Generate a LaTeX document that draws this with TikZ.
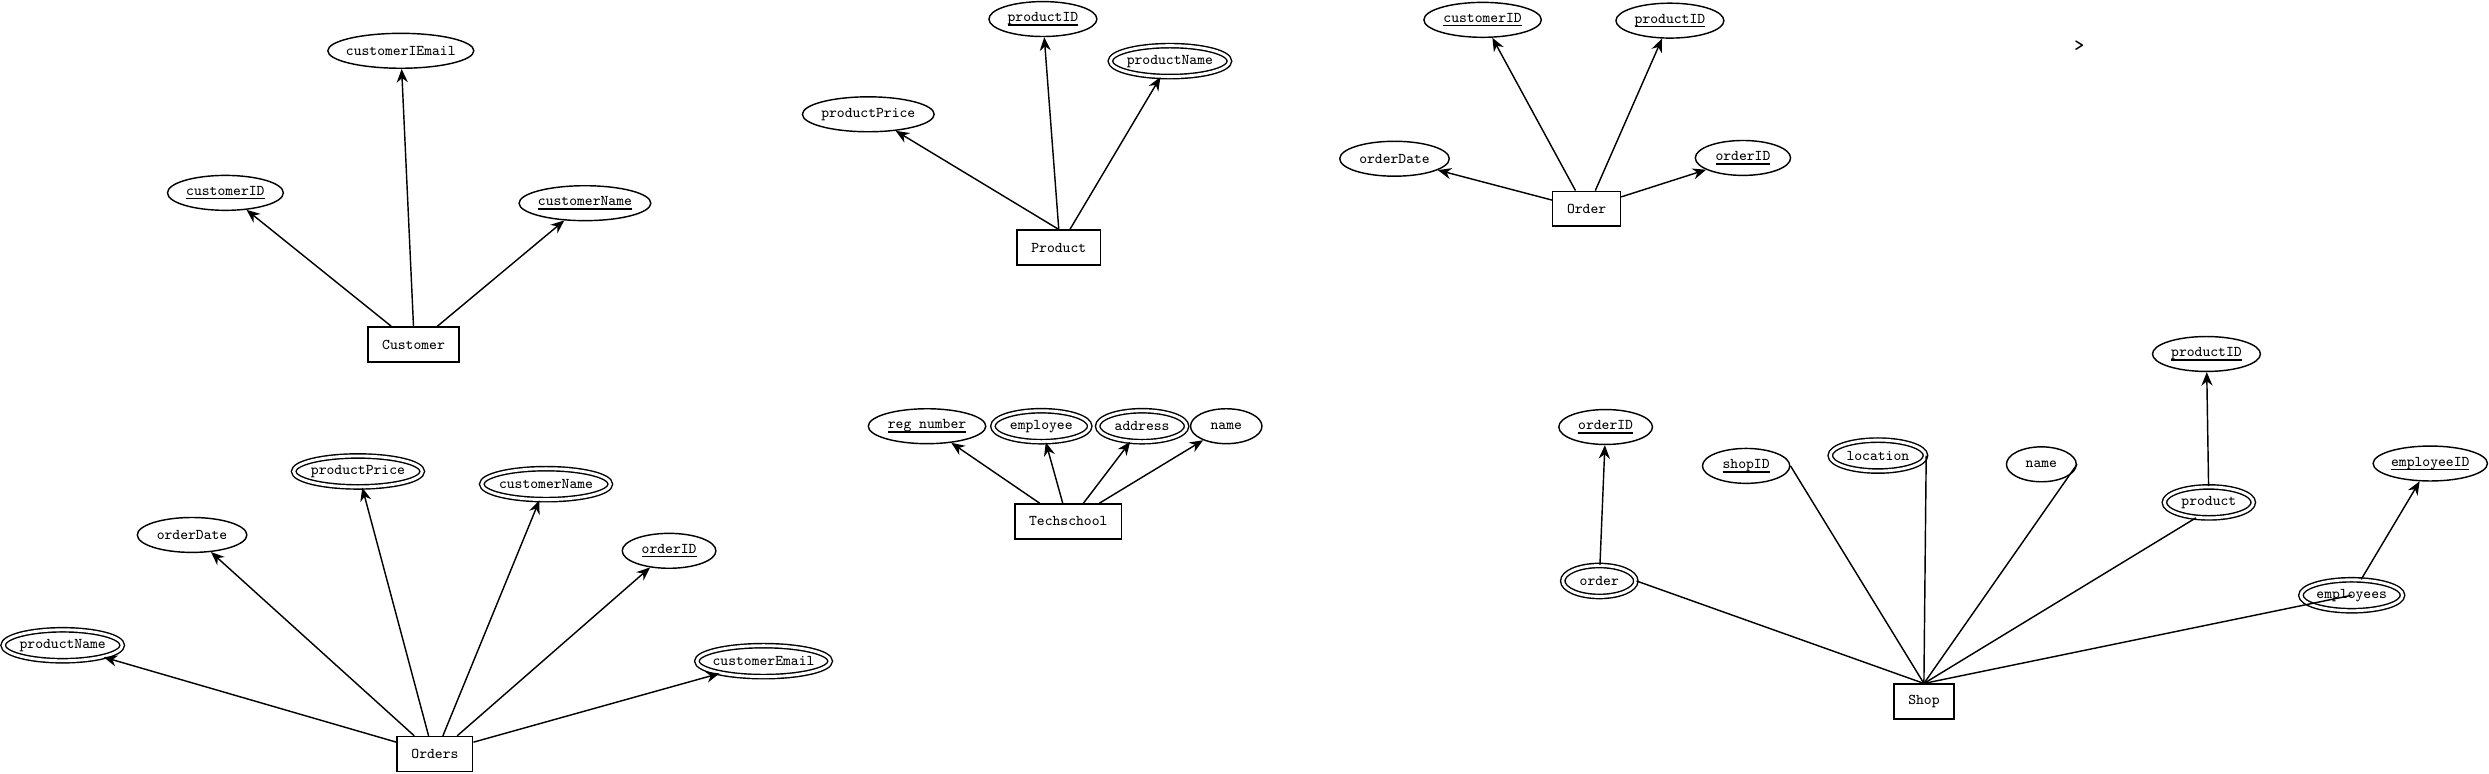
\documentclass[tikz,border=0pt]{standalone}
\usepackage{fontspec}
\usetikzlibrary{shapes.geometric,arrows.meta}
\newcommand{\keyattr}[1]{\setbox0\hbox{#1}\rlap{\vrule width\wd0 height -1.6pt depth 2.6pt}\box0}

\begin{document}
\begin{tikzpicture}[x=1pt,y=-1pt,inner sep=0pt,line width=0.9pt,
>={Stealth[length=8.5pt,width=7pt]},
every node/.style={font=\ttfamily\fontsize{9.4}{11}\selectfont},
entity/.style={draw,rectangle,inner xsep=9pt,minimum height=22pt},
attr/.style={draw,ellipse,minimum width=#1,minimum height=22pt,
  execute at begin node=\hbox to 0pt\bgroup\hss,execute at end node=\hss\egroup},
mattr/.style={attr=#1,minimum height=19.5pt,double,double distance=1.8pt}]

\useasboundingbox (0,0) rectangle (1568,487);

% Customer
\draw (260.5,217) node[entity] (cust) {Customer};
\draw (252.5,32) node[attr=92pt] (custEmail) {customerIEmail};
\draw (142,121.5) node[attr=73pt] (custID) {\keyattr{customerID}};
\draw (368.5,128) node[attr=83pt] (custName) {\keyattr{customerName}};

\draw[->] ([xshift=-14pt]cust.north) -- (custID);
\draw[->] (cust.north) -- (custEmail);
\draw[->] ([xshift=15pt]cust.north) -- (custName);

% Product
\draw (667,156) node[entity] (prod) {Product};
\draw (657,12) node[attr=68pt] (prodID) {\keyattr{productID}};
\draw (737,38.5) node[mattr=75pt] (prodName) {productName};
\draw (547,72) node[attr=83pt] (prodPrice) {productPrice};

\draw[->] (prod.north) -- (prodPrice);
\draw[->] (prod.north) -- (prodID);
\draw[->] ([xshift=7pt]prod.north) -- (prodName);

% Order
\draw (999.5,131.5) node[entity] (ord) {Order};
\draw (934,12.5) node[attr=74pt] (ordCustID) {\keyattr{customerID}};
\draw (1052,13) node[attr=68pt] (ordProdID) {\keyattr{productID}};
\draw (878.5,100) node[attr=69pt] (ordDate) {orderDate};
\draw (1098,99.5) node[attr=60pt] (ordID) {\keyattr{orderID}};

\draw[->] ([yshift=-6pt]ord.north west) -- (ordDate);
\draw[->] ([xshift=-7pt]ord.north) -- (ordCustID);
\draw[->] ([xshift=5.5pt]ord.north) -- (ordProdID);
\draw[->] ([yshift=-4pt]ord.north east) -- (ordID);

\draw (1310,29) node[font=\ttfamily\bfseries\fontsize{12}{13}\selectfont] (stray) {>};

% Orders
\draw (274,475) node[entity] (ords) {Orders};
\draw (39.5,406.5) node[mattr=75pt] (osProdName) {productName};
\draw (121,337) node[attr=69pt] (osDate) {orderDate};
\draw (225.5,297) node[mattr=81pt] (osProdPrice) {productPrice};
\draw (344,305) node[mattr=81pt] (osCustName) {customerName};
\draw (421.5,347) node[attr=59pt] (osID) {\keyattr{orderID}};
\draw (481,416.5) node[mattr=84pt] (osCustEmail) {customerEmail};

\draw[->] ([yshift=-4pt]ords.north west) -- (osProdName);
\draw[->] ([xshift=-13pt]ords.north) -- (osDate);
\draw[->] ([xshift=-4pt]ords.north) -- (osProdPrice);
\draw[->] ([xshift=5pt]ords.north) -- (osCustName);
\draw[->] ([xshift=14pt]ords.north) -- (osID);
\draw[->] ([yshift=-4pt]ords.north east) -- (osCustEmail);

% Techschool
\draw (673,328.5) node[entity] (tech) {Techschool};
\draw (584,268.5) node[attr=74pt] (techReg) {\keyattr{reg number}};
\draw (656,268.5) node[mattr=61pt] (techEmp) {employee};
\draw (719.5,268.5) node[mattr=56pt] (techAddr) {address};
\draw (772.5,268.5) node[attr=45pt] (techName) {name};

\draw[->] ([xshift=-18pt]tech.north) -- (techReg);
\draw[->] ([xshift=-3.5pt]tech.north) -- (techEmp);
\draw[->] ([xshift=9.5pt]tech.north) -- (techAddr);
\draw[->] ([xshift=19.5pt]tech.north) -- (techName);

% Shop
\draw (1212,442) node[entity] (shop) {Shop};
\draw (1011.5,269) node[attr=59pt] (shOrdID) {\keyattr{orderID}};
\draw (1007.5,366) node[mattr=46pt] (shOrd) {order};
\draw (1100,293.5) node[attr=55pt] (shID) {\keyattr{shopID}};
\draw (1183,287) node[mattr=60pt] (shLoc) {location};
\draw (1286,292.5) node[attr=44pt] (shName) {name};
\draw (1390,223) node[attr=68pt] (shProdID) {\keyattr{productID}};
\draw (1391.5,316.5) node[mattr=56pt] (shProd) {product};
\draw (1531,292) node[attr=72pt] (shEmpID) {\keyattr{employeeID}};
\draw (1481.5,375) node[mattr=64pt] (shEmp) {employees};

\draw (shop.north) -- (shOrd.east);
\draw (shop.north) -- (shID.east);
\draw (shop.north) -- (shLoc.east);
\draw (shop.north) -- (shName.east);
\draw (shop.north) -- (shProd.230);
\draw (shop.north) -- (shEmp.center);

\draw[->] (shOrd) -- (shOrdID);
\draw[->] (shProd) -- (shProdID);
\draw[->] (shEmp) -- (shEmpID);
\end{tikzpicture}
\end{document}
